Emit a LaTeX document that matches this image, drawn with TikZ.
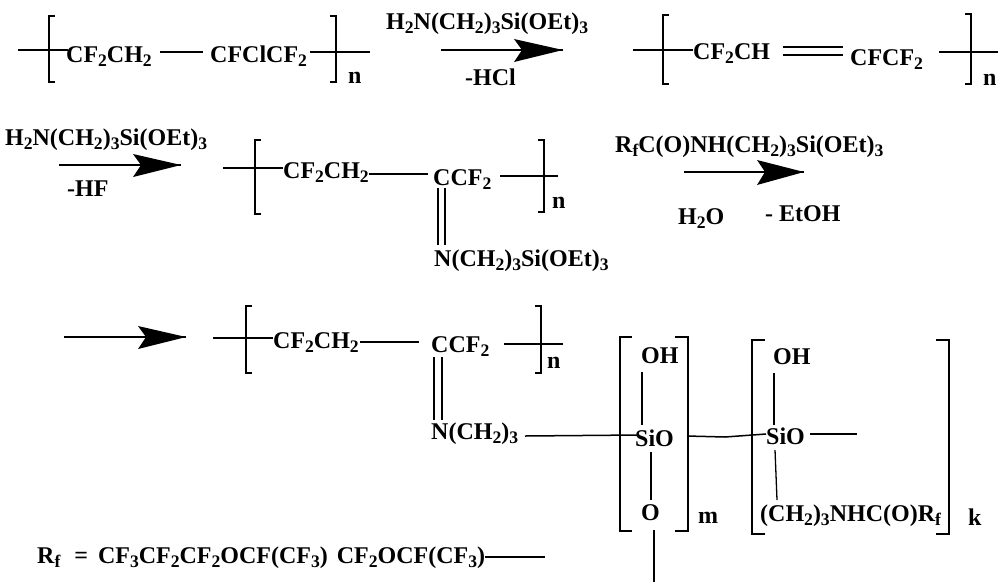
\documentclass[tikz,border=0pt]{standalone}
\usepackage{fontspec}
\setmainfont{Liberation Serif}
\newcommand{\chs}[1]{\raisebox{-4pt}{\fontsize{17.6}{17.6}\selectfont #1}}
\begin{document}
\begin{tikzpicture}[x=1pt,y=-1pt,
  chem/.style={anchor=base west,inner sep=0pt,font=\fontsize{24}{26}\selectfont\bfseries},
  bond/.style={draw=black,line width=1.5pt},
  thin bond/.style={draw=black,line width=1.3pt},
  brk/.style={draw=black,line width=1.4pt},
  arrowhead/.style={fill=black,draw=none}]
\useasboundingbox (0,0) rectangle (1003,587);
% ---- Row 1
\node[chem] (a1) at (66,62) {CF\chs{2}CH\chs{2}};
\node[chem] (a2) at (210,62) {CFClCF\chs{2}};
\node[chem] (an) at (348,83) {n};
\coordinate (a0l) at (18,50); \coordinate (a0r) at (68,50);
\coordinate (a1b) at (160,52); \coordinate (a2b) at (203,52);
\coordinate (a3l) at (310,52); \coordinate (a3r) at (370,52);
\draw[bond] (a0l) -- (a0r);
\draw[bond] (a1b) -- (a2b);
\draw[bond] (a3l) -- (a3r);
\draw[brk] (55,16) -- (49,16) -- (49,82) -- (55,82);
\draw[brk] (330,16) -- (336,16) -- (336,82) -- (330,82);
% arrow 1
\node[chem] (r1) at (386,29) {H\chs{2}N(CH\chs{2})\chs{3}Si(OEt)\chs{3}};
\node[chem] (r1b) at (465,85) {-HCl};
\coordinate (ar1s) at (441,50); \coordinate (ar1t) at (563,50);
\draw[bond] (ar1s) -- (ar1t);
\fill[arrowhead] (ar1t) -- (514,39) -- (522,50) -- (514,62) -- cycle;
% Row 1 right
\node[chem] (b1) at (693,59) {CF\chs{2}CH};
\node[chem] (b2) at (850,65) {CFCF\chs{2}};
\node[chem] (bn) at (983,85) {n};
\coordinate (b0l) at (633,50); \coordinate (b0r) at (693,50);
\coordinate (bd1) at (783,47); \coordinate (bd2) at (843,47);
\coordinate (bd3) at (783,55); \coordinate (bd4) at (843,55);
\coordinate (b3l) at (939,52); \coordinate (b3r) at (998,52);
\draw[bond] (b0l) -- (b0r);
\draw[bond] (bd1) -- (bd2);
\draw[bond] (bd3) -- (bd4);
\draw[bond] (b3l) -- (b3r);
\draw[brk] (669,15) -- (663,15) -- (663,84) -- (669,84);
\draw[brk] (965,14) -- (971,14) -- (971,84) -- (965,84);
% ---- Row 2
\node[chem] (r2) at (5,145) {H\chs{2}N(CH\chs{2})\chs{3}Si(OEt)\chs{3}};
\node[chem] (r2b) at (67,196) {-HF};
\coordinate (ar2s) at (59,165); \coordinate (ar2t) at (181,165);
\draw[bond] (ar2s) -- (ar2t);
\fill[arrowhead] (ar2t) -- (133,154) -- (141,165) -- (133,177) -- cycle;
\node[chem] (c1) at (283,178) {CF\chs{2}CH\chs{2}};
\node[chem] (c2) at (433,185) {CCF\chs{2}};
\node[chem] (c3) at (434,266) {N(CH\chs{2})\chs{3}Si(OEt)\chs{3}};
\node[chem] (cn) at (552,208) {n};
\coordinate (c0l) at (223,168); \coordinate (c0r) at (283,168);
\coordinate (c1b) at (369,174); \coordinate (c2b) at (428,174);
\coordinate (c3l) at (500,176); \coordinate (c3r) at (558,176);
\coordinate (cd1) at (438,188); \coordinate (cd2) at (438,245);
\coordinate (cd3) at (445,188); \coordinate (cd4) at (445,245);
\draw[bond] (c0l) -- (c0r);
\draw[bond] (c1b) -- (c2b);
\draw[bond] (c3l) -- (c3r);
\draw[thin bond] (cd1) -- (cd2);
\draw[thin bond] (cd3) -- (cd4);
\draw[brk] (261,140) -- (255,140) -- (255,214) -- (261,214);
\draw[brk] (538,140) -- (544,140) -- (544,212) -- (538,212);
\node[chem] (r3) at (615,152) {R\chs{f}C(O)NH(CH\chs{2})\chs{3}Si(OEt)\chs{3}};
\node[chem] (r3a) at (678,224) {H\chs{2}O};
\node[chem] (r3b) at (765,221) {- EtOH};
\coordinate (ar3s) at (684,172); \coordinate (ar3t) at (804,172);
\draw[bond] (ar3s) -- (ar3t);
\fill[arrowhead] (ar3t) -- (757,160) -- (765,172) -- (757,185) -- cycle;
% ---- Row 3
\coordinate (ar4s) at (64,337); \coordinate (ar4t) at (186,337);
\draw[bond] (ar4s) -- (ar4t);
\fill[arrowhead] (ar4t) -- (138,326) -- (146,337) -- (138,349) -- cycle;
\node[chem] (d1) at (273,348) {CF\chs{2}CH\chs{2}};
\node[chem] (d2) at (431,352) {CCF\chs{2}};
\node[chem] (d3) at (431,439) {N(CH\chs{2})\chs{3}};
\node[chem] (dn) at (547,368) {n};
\coordinate (d0l) at (213,338); \coordinate (d0r) at (273,338);
\coordinate (d1b) at (360,342); \coordinate (d2b) at (419,342);
\coordinate (d3l) at (504,344); \coordinate (d3r) at (563,344);
\coordinate (dd1) at (434,357); \coordinate (dd2) at (434,420);
\coordinate (dd3) at (442,357); \coordinate (dd4) at (442,420);
\coordinate (d4l) at (525,436); \coordinate (d4r) at (638,435);
\draw[bond] (d0l) -- (d0r);
\draw[bond] (d1b) -- (d2b);
\draw[bond] (d3l) -- (d3r);
\draw[thin bond] (dd1) -- (dd2);
\draw[thin bond] (dd3) -- (dd4);
\draw[brk] (252,306) -- (246,306) -- (246,373) -- (252,373);
\draw[brk] (535,306) -- (541,306) -- (541,373) -- (535,373);
\draw[bond] (d4l) -- (d4r);
% m unit
\node[chem] (e1) at (641,363) {OH};
\node[chem] (e2) at (635,446) {SiO};
\node[chem] (e3) at (641,520) {O};
\node[chem] (em) at (698,523) {m};
\coordinate (e1a) at (642,372); \coordinate (e1b) at (642,425);
\coordinate (e2a) at (651,452); \coordinate (e2b) at (651,500);
\coordinate (e3a) at (654,530); \coordinate (e3b) at (654,582);
\coordinate (e4a) at (687,436); \coordinate (e4m) at (725,437); \coordinate (e4b) at (766,434);
\draw[thin bond] (e1a) -- (e1b);
\draw[thin bond] (e2a) -- (e2b);
\draw[bond] (e3a) -- (e3b);
\draw[brk] (632,337) -- (620,337) -- (620,531) -- (632,531);
\draw[brk] (675,337) -- (688,337) -- (688,531) -- (675,531);
% k unit
\node[chem] (f1) at (773,364) {OH};
\node[chem] (f2) at (766,444) {SiO};
\node[chem] (f3) at (760,521) {(CH\chs{2})\chs{3}NHC(O)R\chs{f}};
\node[chem] (fk) at (968,525) {k};
\coordinate (f1a) at (774,373); \coordinate (f1b) at (774,425);
\coordinate (f2a) at (775,450); \coordinate (f2b) at (777,500);
\coordinate (f3a) at (810,434); \coordinate (f3b) at (857,434);
\draw[bond] (e4a) -- (e4m) -- (e4b);
\draw[thin bond] (f1a) -- (f1b);
\draw[thin bond] (f2a) -- (f2b);
\draw[bond] (f3a) -- (f3b);
\draw[brk] (765,340) -- (752,340) -- (752,534) -- (765,534);
\draw[brk] (936,340) -- (949,340) -- (949,534) -- (936,534);
% Rf
\node[chem] (g) at (37,563) {R\chs{f} \,\,=\, CF\chs{3}CF\chs{2}CF\chs{2}OCF(CF\chs{3})\hspace{9pt}CF\chs{2}OCF(CF\chs{3})};
\coordinate (g1) at (485,557); \coordinate (g2) at (545,557);
\draw[bond] (g1) -- (g2);
\end{tikzpicture}
\end{document}
